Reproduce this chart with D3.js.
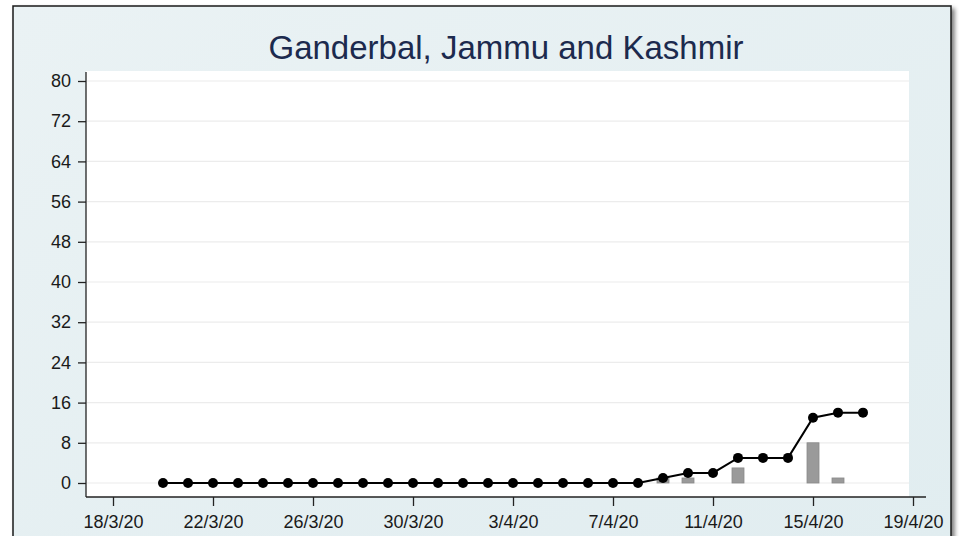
<!DOCTYPE html>
<html><head><meta charset="utf-8">
<script src="https://cdn.jsdelivr.net/npm/d3@7/dist/d3.min.js"></script>
<style>body{margin:0;background:#fff}svg{display:block}</style>
</head><body>
<script>
const dates = ["20/3/20","21/3/20","22/3/20","23/3/20","24/3/20","25/3/20","26/3/20","27/3/20","28/3/20","29/3/20","30/3/20","31/3/20","1/4/20","2/4/20","3/4/20","4/4/20","5/4/20","6/4/20","7/4/20","8/4/20","9/4/20","10/4/20","11/4/20","12/4/20","13/4/20","14/4/20","15/4/20","16/4/20","17/4/20"];
const cumulative = [0,0,0,0,0,0,0,0,0,0,0,0,0,0,0,0,0,0,0,0,1,2,2,5,5,5,13,14,14];
const daily = [0,0,0,0,0,0,0,0,0,0,0,0,0,0,0,0,0,0,0,0,1,1,0,3,0,0,8,1,0];
const yTicks = [0,8,16,24,32,40,48,56,64,72,80];
const xTickLabels = ["18/3/20","22/3/20","26/3/20","30/3/20","3/4/20","7/4/20","11/4/20","15/4/20","19/4/20"];
const title = "Ganderbal, Jammu and Kashmir";

const parse = d3.timeParse("%d/%m/%y");
const W = 959, H = 536;
const svg = d3.select("body").append("svg").attr("width", W).attr("height", H);

const defs = svg.append("defs");
const f = defs.append("filter").attr("id","sh").attr("x","-5%").attr("y","-5%").attr("width","110%").attr("height","110%");
f.append("feDropShadow").attr("dx",3).attr("dy",3).attr("stdDeviation",2).attr("flood-color","#000").attr("flood-opacity",0.5);
const g1 = defs.append("linearGradient").attr("id","bg").attr("x1","0").attr("y1","0").attr("x2","1").attr("y2","1");
g1.append("stop").attr("offset","0").attr("stop-color","#eaf2f4");
g1.append("stop").attr("offset","1").attr("stop-color","#e1edf0");

// outer frame
svg.append("rect").attr("x",13).attr("y",6).attr("width",938).attr("height",540)
  .attr("fill","url(#bg)").attr("stroke","#1a1a1a").attr("stroke-width",1.5).attr("filter","url(#sh)");

const x = d3.scaleTime().domain([parse("18/3/20"), parse("19/4/20")]).range([113, 913]);
const y = d3.scaleLinear().domain([0, 80]).range([483, 81]);

// plot region
svg.append("rect").attr("x",86).attr("y",71).attr("width",823).attr("height",426).attr("fill","#ffffff");

// gridlines
svg.append("g").selectAll("line").data(yTicks).join("line")
  .attr("x1",87).attr("x2",909).attr("y1",d=>y(d)).attr("y2",d=>y(d))
  .attr("stroke","#ececec").attr("stroke-width",1.2);

// title
svg.append("text").attr("x",506).attr("y",59).attr("text-anchor","middle")
  .attr("font-family","Liberation Sans, Arial, sans-serif").attr("font-size",33)
  .attr("fill","#1c2a4e").text(title);

// axes
const yAxis = d3.axisLeft(y).tickValues(yTicks).tickSize(8).tickPadding(7);
const yg = svg.append("g").attr("transform","translate(86,0)").call(yAxis);
yg.select(".domain").attr("d","M0,72V497");
const xAxis = d3.axisBottom(x).tickValues(xTickLabels.map(parse)).tickFormat(d3.timeFormat("%-d/%-m/%y")).tickSize(9).tickPadding(9);
const xg = svg.append("g").attr("transform","translate(0,497)").call(xAxis);
xg.select(".domain").attr("d","M86,0H926");
[yg, xg].forEach(g => {
  g.selectAll("text").attr("font-family","Liberation Sans, Arial, sans-serif").attr("font-size",18).attr("fill","#1a1a1a");
  g.selectAll("line,path").attr("stroke","#222").attr("stroke-width",1.3);
});

// bars
const bw = 12;
svg.append("g").selectAll("rect").data(dates.map((d,i)=>({d:parse(d), v:daily[i]})).filter(e=>e.v>0)).join("rect")
  .attr("x",e=>x(e.d)-bw/2).attr("width",bw).attr("y",e=>y(e.v)).attr("height",e=>y(0)-y(e.v))
  .attr("fill","#9a9a9a").attr("stroke","#8a8a8a").attr("stroke-width",0.8);

// line
const pts = dates.map((d,i)=>({d:parse(d), v:cumulative[i]}));
svg.append("path").datum(pts).attr("fill","none").attr("stroke","#000").attr("stroke-width",2)
  .attr("d", d3.line().x(e=>x(e.d)).y(e=>y(e.v)));
svg.append("g").selectAll("circle").data(pts).join("circle")
  .attr("cx",e=>x(e.d)).attr("cy",e=>y(e.v)).attr("r",5).attr("fill","#000");
</script>
</body></html>
